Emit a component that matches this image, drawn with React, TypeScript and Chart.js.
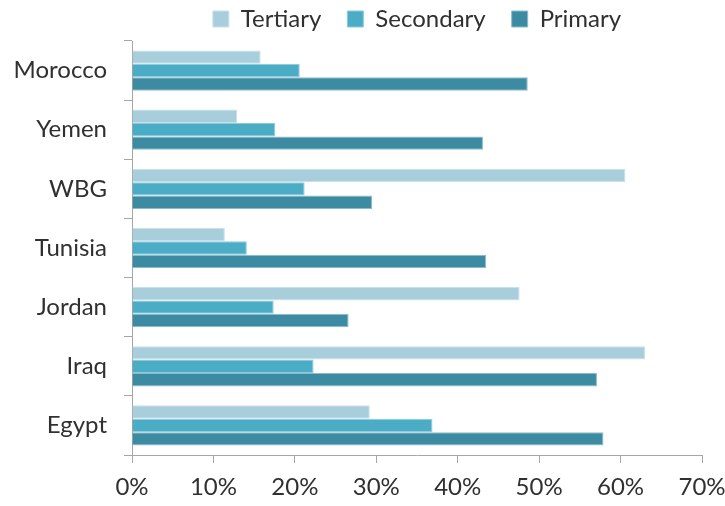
import React, { useEffect, useRef } from 'react';
import { Chart, registerables } from 'chart.js';

Chart.register(...registerables);

const categories = ['Morocco', 'Yemen', 'WBG', 'Tunisia', 'Jordan', 'Iraq', 'Egypt'];
const tertiary = [15.8, 12.9, 60.6, 11.4, 47.6, 63.0, 29.2];
const secondary = [20.6, 17.6, 21.2, 14.1, 17.4, 22.3, 36.9];
const primary = [48.6, 43.1, 29.5, 43.5, 26.6, 57.1, 57.9];
const seriesNames = ['Tertiary', 'Secondary', 'Primary'];
const xTickValues = [0, 10, 20, 30, 40, 50, 60, 70];

const FONT = 'Lato, "Open Sans", sans-serif';
const TEXT = '#303030';
const AXIS = '#A6A6A6';

export default function App() {
  const ref = useRef<HTMLCanvasElement | null>(null);

  useEffect(() => {
    document.body.style.margin = '0';
    const canvas = ref.current;
    if (!canvas) return;
    const chart = new Chart(canvas, {
      type: 'bar',
      data: {
        labels: categories,
        datasets: [
          {
            label: seriesNames[0],
            data: tertiary,
            backgroundColor: '#A8CEDC',
            borderColor: '#C9E1EA',
            borderWidth: 1,
          },
          {
            label: seriesNames[1],
            data: secondary,
            backgroundColor: '#4BACC6',
            borderColor: '#8FCADB',
            borderWidth: 1,
          },
          {
            label: seriesNames[2],
            data: primary,
            backgroundColor: '#3C8BA2',
            borderColor: '#8CBCCB',
            borderWidth: 1,
          },
        ],
      },
      options: {
        indexAxis: 'y',
        responsive: false,
        animation: false,
        maintainAspectRatio: false,
        datasets: {
          bar: { barPercentage: 1, categoryPercentage: 0.68 },
        },
        layout: { padding: { top: -19, right: 23, left: 0, bottom: 0 } },
        plugins: {
          tooltip: { enabled: false },
          legend: {
            position: 'top',
            fullSize: false,
            align: 'center',
            labels: {
              boxWidth: 16,
              boxHeight: 16,
              padding: 26,
              color: TEXT,
              font: { family: FONT, size: 24 },
            },
          },
        },
        scales: {
          x: {
            type: 'linear',
            min: 0,
            max: 70,
            afterBuildTicks: (scale: any) => {
              scale.ticks = xTickValues.map((v) => ({ value: v }));
            },
            afterFit: (scale: any) => {
              scale.height = 51;
              scale.paddingRight = 0;
              scale.paddingLeft = 0;
            },
            ticks: {
              color: TEXT,
              font: { family: FONT, size: 24 },
              padding: 10,
              maxRotation: 0,
              callback: (v: any) => `${v}%`,
            },
            grid: {
              drawOnChartArea: false,
              drawTicks: true,
              tickLength: 8,
              color: AXIS,
            },
            border: { display: true, color: AXIS, width: 1 },
          },
          y: {
            type: 'category',
            afterFit: (scale: any) => {
              scale.width = 132;
            },
            ticks: {
              color: TEXT,
              font: { family: FONT, size: 24 },
              padding: 17,
            },
            grid: {
              offset: true,
              drawOnChartArea: false,
              drawTicks: true,
              tickLength: 8,
              color: AXIS,
            },
            border: { display: true, color: AXIS, width: 1 },
          },
        },
      },
    });
    return () => chart.destroy();
  }, []);

  return (
    <div style={{ width: 725, height: 506, background: '#fff' }}>
      <canvas ref={ref} width={725} height={506} style={{ display: 'block' }} />
    </div>
  );
}
